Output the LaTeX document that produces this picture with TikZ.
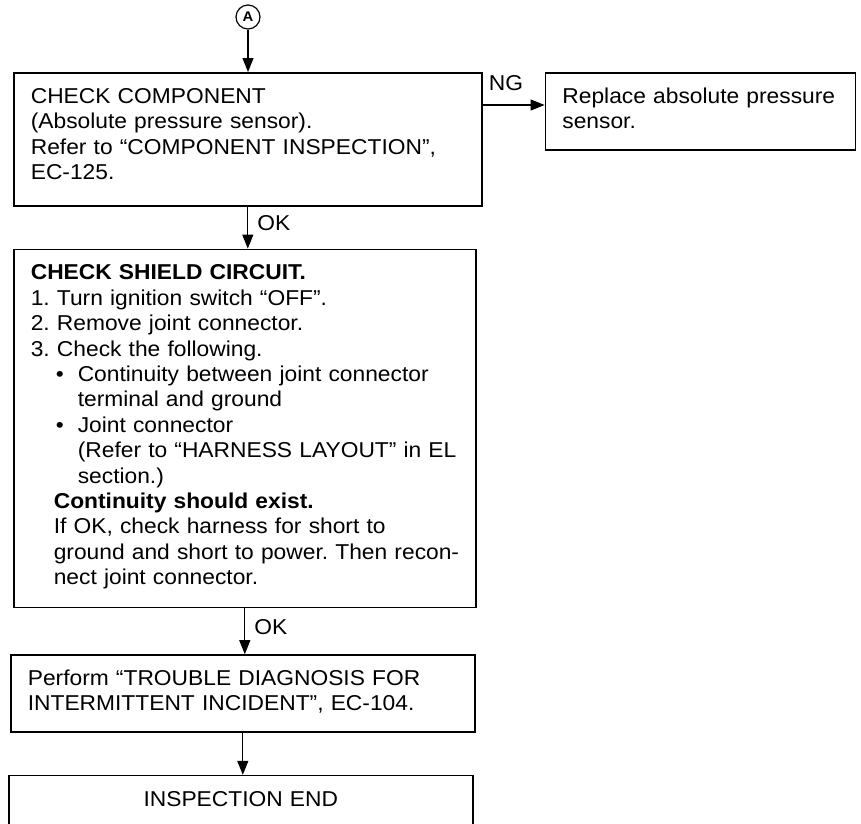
\documentclass[tikz,border=0pt]{standalone}
\usepackage{fontspec}
\setmainfont{Liberation Sans}[FakeStretch=1.06]
\usetikzlibrary{arrows.meta,positioning}
\frenchspacing

\begin{document}
\begin{tikzpicture}[
  x=1pt, y=1pt,
  font=\fontsize{21.5}{25.4}\selectfont,
  stepbox/.style={draw, line width=1.6pt, inner xsep=17pt, inner ysep=15pt, text height=15.5pt, align=left},
  marker/.style={circle, draw, line width=1.2pt, minimum size=24pt, inner sep=0pt, font=\fontsize{14}{14}\selectfont\bfseries},
  flowlabel/.style={inner sep=0pt},
  arrow/.style={-{Triangle[length=14pt, width=11pt]}, line width=1.1pt}
]
\useasboundingbox (0,0) rectangle (861,-823);

\node[marker] (start) at (248,-17) {A};
\node[stepbox, text width=434pt, text depth=87.5pt, anchor=north west] (component) at (13,-72)
  {CHECK COMPONENT\\
   (Absolute pressure sensor).\\
   Refer to “COMPONENT INSPECTION”,\\
   EC-125.};
\node[stepbox, text width=276pt, text depth=31.5pt, right=62pt of component.north east, anchor=north west] (replace)
  {Replace absolute pressure\\
   sensor.};
\node[stepbox, text width=428pt, text depth=312.5pt, below=42pt of component.south west, anchor=north west] (shield)
  {\textbf{CHECK SHIELD CIRCUIT.}\\
   1. Turn ignition switch “OFF”.\\
   2. Remove joint connector.\\
   3. Check the following.\\
   \hspace*{25pt}\makebox[22pt][l]{\textbullet}Continuity between joint connector\\
   \hspace*{47pt}terminal and ground\\
   \hspace*{25pt}\makebox[22pt][l]{\textbullet}Joint connector\\
   \hspace*{47pt}\mbox{(Refer to “HARNESS LAYOUT” in EL}\\
   \hspace*{47pt}section.)\\
   \hspace*{23pt}\textbf{Continuity should exist.}\\
   \hspace*{23pt}If OK, check harness for short to\\
   \hspace*{23pt}\mbox{ground and short to power. Then recon-}\\
   \hspace*{23pt}nect joint connector.};
\node[stepbox, text width=430pt, text depth=31.5pt, below=46pt of shield.south west, anchor=north west, xshift=-3pt] (trouble)
  {Perform “TROUBLE DIAGNOSIS FOR\\
   INTERMITTENT INCIDENT”, EC-104.};
\node[stepbox, text width=430pt, text depth=40pt, align=center, below=42pt of trouble.south west, anchor=north west, xshift=-2pt] (finish)
  {INSPECTION END};

\coordinate (ngfork) at ([yshift=-33pt]component.north east);

\draw[arrow] (start) -- (start |- component.north);
\draw[arrow] (ngfork) -- (ngfork -| replace.west);
\node[flowlabel, anchor=base west] (ng) at ([xshift=6pt, yshift=15pt]ngfork) {NG};
\draw[arrow] (component.south) -- (component.south |- shield.north)
  node[flowlabel, pos=0.4, anchor=west, xshift=9pt] (ok1) {OK};
\draw[arrow] (shield.south) -- (shield.south |- trouble.north)
  node[flowlabel, pos=0.4, anchor=west, xshift=9pt] (ok2) {OK};
\draw[arrow] (trouble.south) -- (trouble.south |- finish.north);
\end{tikzpicture}
\end{document}
